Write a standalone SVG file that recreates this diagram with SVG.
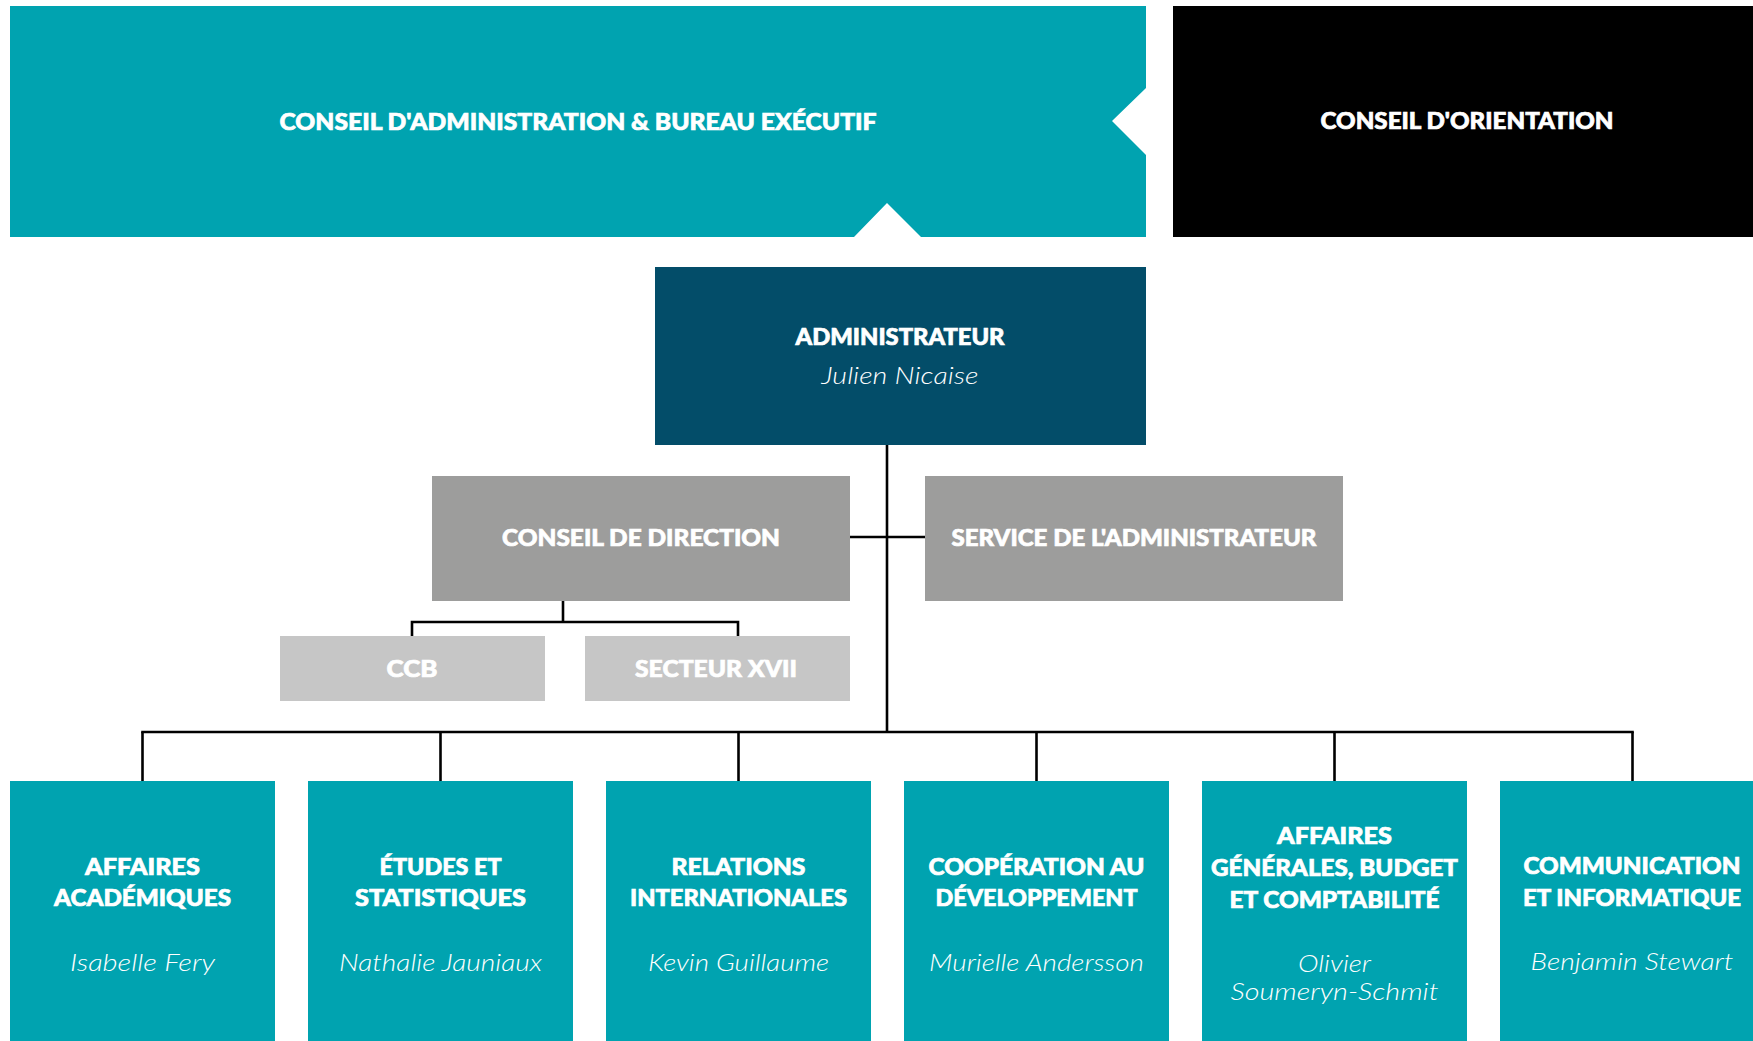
<svg xmlns="http://www.w3.org/2000/svg" width="1753" height="1041" viewBox="0 0 1753 1041">
<style>
.t{font-family:Lato,"Open Sans","Liberation Sans",sans-serif;font-weight:900;font-size:23.5px;fill:#fff;stroke:#fff;stroke-width:0.7px;text-anchor:middle}
.n{font-family:Lato,"Open Sans","Liberation Sans",sans-serif;font-style:italic;font-weight:300;font-size:23px;fill:#fff;text-anchor:middle}
.teal{fill:#00A3B0}
.grey{fill:#9D9D9C}
.lgrey{fill:#C6C6C6}
.c{stroke:#000;stroke-width:2.6;fill:none}
</style>
<rect width="1753" height="1041" fill="#fff"/>
<g id="conseil-admin">
<polygon class="teal" points="10,6 1146,6 1146,88 1112,121 1146,155 1146,237 921,237 887,203 854,237 10,237"/>
<text class="t" x="578" y="130" textLength="597" lengthAdjust="spacingAndGlyphs">CONSEIL D'ADMINISTRATION &amp; BUREAU EXÉCUTIF</text>
</g>
<g id="conseil-orientation">
<rect x="1173" y="6" width="580" height="231" fill="#000"/>
<text class="t" x="1467" y="129" textLength="293" lengthAdjust="spacingAndGlyphs">CONSEIL D'ORIENTATION</text>
</g>
<g id="connectors">
<line class="c" x1="887" y1="445" x2="887" y2="732"/>
<line class="c" x1="850" y1="537" x2="925" y2="537" stroke-width="3"/>
<line class="c" x1="563" y1="601" x2="563" y2="622"/>
<polyline class="c" points="412,636 412,622 738,622 738,636"/>
<line class="c" x1="141.2" y1="732" x2="1633.8" y2="732"/>
<line class="c" x1="142.5" y1="732" x2="142.5" y2="781"/>
<line class="c" x1="440.5" y1="732" x2="440.5" y2="781"/>
<line class="c" x1="738.5" y1="732" x2="738.5" y2="781"/>
<line class="c" x1="1036.5" y1="732" x2="1036.5" y2="781"/>
<line class="c" x1="1334.5" y1="732" x2="1334.5" y2="781"/>
<line class="c" x1="1632.5" y1="732" x2="1632.5" y2="781"/>
</g>
<g id="administrateur">
<rect x="655" y="267" width="491" height="178" fill="#034D69"/>
<text class="t" x="900" y="345" textLength="209" lengthAdjust="spacingAndGlyphs">ADMINISTRATEUR</text>
<text class="n" x="900" y="384" textLength="157" lengthAdjust="spacingAndGlyphs">Julien Nicaise</text>
</g>
<g id="conseil-direction">
<rect class="grey" x="432" y="476" width="418" height="125"/>
<text class="t" x="641" y="546" textLength="278" lengthAdjust="spacingAndGlyphs">CONSEIL DE DIRECTION</text>
</g>
<g id="service-administrateur">
<rect class="grey" x="925" y="476" width="418" height="125"/>
<text class="t" x="1134" y="546" textLength="365" lengthAdjust="spacingAndGlyphs">SERVICE DE L'ADMINISTRATEUR</text>
</g>
<g id="ccb">
<rect class="lgrey" x="280" y="636" width="265" height="65"/>
<text class="t" x="412" y="677" textLength="51" lengthAdjust="spacingAndGlyphs">CCB</text>
</g>
<g id="secteur-xvii">
<rect class="lgrey" x="585" y="636" width="265" height="65"/>
<text class="t" x="716" y="677" textLength="162" lengthAdjust="spacingAndGlyphs">SECTEUR XVII</text>
</g>
<g id="affaires-academiques">
<rect class="teal" x="10" y="781" width="265" height="260"/>
<text class="t" x="142.5" y="875" textLength="115" lengthAdjust="spacingAndGlyphs">AFFAIRES</text>
<text class="t" x="142.5" y="906" textLength="177" lengthAdjust="spacingAndGlyphs">ACADÉMIQUES</text>
<text class="n" x="142.5" y="971" textLength="145" lengthAdjust="spacingAndGlyphs">Isabelle Fery</text>
</g>
<g id="etudes-statistiques">
<rect class="teal" x="308" y="781" width="265" height="260"/>
<text class="t" x="440.5" y="875" textLength="122" lengthAdjust="spacingAndGlyphs">ÉTUDES ET</text>
<text class="t" x="440.5" y="906" textLength="171" lengthAdjust="spacingAndGlyphs">STATISTIQUES</text>
<text class="n" x="440.5" y="971" textLength="203" lengthAdjust="spacingAndGlyphs">Nathalie Jauniaux</text>
</g>
<g id="relations-internationales">
<rect class="teal" x="606" y="781" width="265" height="260"/>
<text class="t" x="738.5" y="875" textLength="134" lengthAdjust="spacingAndGlyphs">RELATIONS</text>
<text class="t" x="738.5" y="906" textLength="217" lengthAdjust="spacingAndGlyphs">INTERNATIONALES</text>
<text class="n" x="738.5" y="971" textLength="181" lengthAdjust="spacingAndGlyphs">Kevin Guillaume</text>
</g>
<g id="cooperation-developpement">
<rect class="teal" x="904" y="781" width="265" height="260"/>
<text class="t" x="1036.5" y="875" textLength="216" lengthAdjust="spacingAndGlyphs">COOPÉRATION AU</text>
<text class="t" x="1036.5" y="906" textLength="202" lengthAdjust="spacingAndGlyphs">DÉVELOPPEMENT</text>
<text class="n" x="1036.5" y="971" textLength="215" lengthAdjust="spacingAndGlyphs">Murielle Andersson</text>
</g>
<g id="affaires-generales">
<rect class="teal" x="1202" y="781" width="265" height="260"/>
<text class="t" x="1334.5" y="844" textLength="115" lengthAdjust="spacingAndGlyphs">AFFAIRES</text>
<text class="t" x="1334.5" y="876" textLength="247" lengthAdjust="spacingAndGlyphs">GÉNÉRALES, BUDGET</text>
<text class="t" x="1334.5" y="908" textLength="210" lengthAdjust="spacingAndGlyphs">ET COMPTABILITÉ</text>
<text class="n" x="1334.5" y="972" textLength="73" lengthAdjust="spacingAndGlyphs">Olivier</text>
<text class="n" x="1334.5" y="1000" textLength="208" lengthAdjust="spacingAndGlyphs">Soumeryn-Schmit</text>
</g>
<g id="communication-informatique">
<rect class="teal" x="1500" y="781" width="253" height="260"/>
<text class="t" x="1632" y="874" textLength="217" lengthAdjust="spacingAndGlyphs">COMMUNICATION</text>
<text class="t" x="1632" y="906" textLength="218" lengthAdjust="spacingAndGlyphs">ET INFORMATIQUE</text>
<text class="n" x="1632" y="970" textLength="203" lengthAdjust="spacingAndGlyphs">Benjamin Stewart</text>
</g>
</svg>
